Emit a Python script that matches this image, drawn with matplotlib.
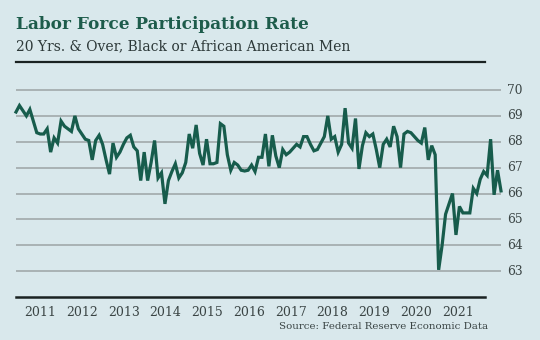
import matplotlib
matplotlib.use("Agg")
import matplotlib.pyplot as plt
import numpy as np
from matplotlib.lines import Line2D

# ---- data (monthly, starting early 2010) ----
rate = [
    69.15, 69.4, 69.2, 69.0, 69.25, 68.8, 68.35, 68.3, 68.3, 68.5,
    67.6, 68.15, 67.95, 68.8, 68.6, 68.5, 68.4, 69.0, 68.5, 68.3,
    68.1, 68.05, 67.3, 68.05, 68.25, 67.9, 67.3, 66.75, 67.95, 67.4,
    67.6, 67.9, 68.15, 68.25, 67.8, 67.65, 66.5, 67.6, 66.5, 67.2,
    68.05, 66.6, 66.8, 65.6, 66.5, 66.85, 67.15, 66.6, 66.8, 67.2,
    68.3, 67.75, 68.65, 67.55, 67.1, 68.1, 67.15, 67.15, 67.2, 68.7,
    68.6, 67.5, 66.9, 67.2, 67.1, 66.9, 66.87, 66.9, 67.1, 66.85,
    67.4, 67.4, 68.3, 67.05, 68.25, 67.45, 67.0, 67.7, 67.5, 67.6,
    67.75, 67.9, 67.8, 68.2, 68.2, 67.9, 67.65, 67.7, 67.95, 68.2,
    69.0, 68.1, 68.2, 67.6, 67.9, 69.3, 67.95, 67.75, 68.9, 66.95,
    67.85, 68.35, 68.2, 68.3, 67.7, 67.0, 67.9, 68.1, 67.8, 68.6,
    68.2, 67.0, 68.3, 68.4, 68.35, 68.2, 68.05, 67.95, 68.55, 67.3,
    67.85, 67.5, 63.05, 64.0, 65.2, 65.6, 66.0, 64.4, 65.5, 65.25,
    65.25, 65.25, 66.2, 66.0, 66.55, 66.85, 66.7, 68.1, 65.95, 66.9,
    66.1,
]
year_labels = ["2011", "2012", "2013", "2014", "2015", "2016",
               "2017", "2018", "2019", "2020", "2021"]
y_ticks = [63, 64, 65, 66, 67, 68, 69, 70]

title = "Labor Force Participation Rate"
subtitle = "20 Yrs. & Over, Black or African American Men"
source = "Source: Federal Reserve Economic Data"

# ---- style ----
BG = "#d9e8ec"
LINE = "#175c4c"
TITLE_C = "#1d5c4b"
SUB_C = "#2c3838"
GRID = "#a6aeb0"
TXT = "#3a4444"
SERIF = ["DejaVu Serif"]

W, H = 540, 340
fig = plt.figure(figsize=(W / 100, H / 100), dpi=100, facecolor=BG)

x0, x1 = 16, 501
ybot, ytop = 297, 82.26
ax = fig.add_axes([x0 / W, (H - ybot) / H, (x1 - x0) / W, (ybot - ytop) / H])
ax.set_facecolor(BG)
for s in ax.spines.values():
    s.set_visible(False)

x = np.arange(len(rate))
ax.set_xlim(0, len(rate) - 1)
ax.set_ylim(62, 70.3)

for v in y_ticks:
    ax.axhline(v, color=GRID, lw=1.3, zorder=1)

ax.plot(x, rate, color=LINE, lw=2.3, zorder=3, solid_joinstyle="miter",
        clip_on=False)

ax.set_yticks([])
ax.set_xticks([])

# y labels on the right
for v in y_ticks:
    ax.text(1.012, v, str(v), transform=ax.get_yaxis_transform(),
            ha="left", va="center", fontsize=8.8, color=TXT, family=SERIF)

# x labels
xpos = [7 + i * 12.05 for i in range(len(year_labels))]
for p, lab in zip(xpos, year_labels):
    ax.text(p, -0.04, lab, transform=ax.get_xaxis_transform(),
            ha="center", va="top", fontsize=9, color=TXT, family=SERIF)

# bottom baseline and header rule
fig.add_artist(Line2D([16 / W, 485 / W], [(H - 297) / H] * 2,
                      color="#1a2222", lw=1.8))
fig.add_artist(Line2D([16 / W, 485 / W], [(H - 62) / H] * 2,
                      color="#1a2222", lw=1.6))

fig.text(16 / W, (H - 29) / H, title, ha="left", va="baseline",
         fontsize=12.2, fontweight="bold", color=TITLE_C, family=SERIF)
fig.text(16 / W, (H - 50.5) / H, subtitle, ha="left", va="baseline",
         fontsize=10.0, color=SUB_C, family=SERIF)
fig.text(488 / W, (H - 329) / H, source, ha="right", va="baseline",
         fontsize=7.4, color=TXT, family=SERIF)

fig.savefig("out.png", dpi=100, facecolor=BG)
